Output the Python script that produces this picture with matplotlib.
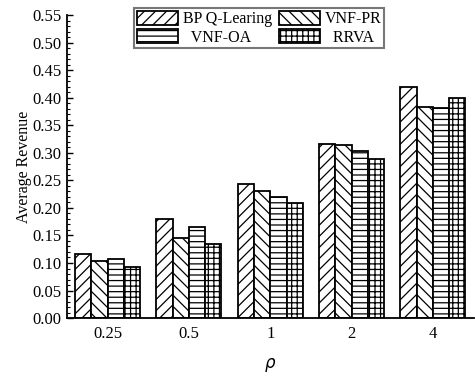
import numpy as np
import matplotlib
matplotlib.use('Agg')
import matplotlib.pyplot as plt
from matplotlib.ticker import MultipleLocator

plt.rcParams['font.family'] = ['Liberation Serif', 'DejaVu Serif']
plt.rcParams['hatch.linewidth'] = 0.9

# data
rho_labels = ['0.25', '0.5', '1', '2', '4']
bp_q = [0.117, 0.179, 0.244, 0.316, 0.420]
vnf_pr = [0.103, 0.145, 0.231, 0.315, 0.383]
vnf_oa = [0.107, 0.166, 0.220, 0.304, 0.381]
rrva = [0.092, 0.135, 0.208, 0.289, 0.400]

series = [bp_q, vnf_pr, vnf_oa, rrva]
names = ['BP Q-Learing', 'VNF-PR', '  VNF-OA', '  RRVA']
hatches = ['///', '\\\\\\', '---', '+++']

fig = plt.figure(figsize=(4.75, 3.76), dpi=100)
ax = fig.add_axes([0.141, 0.154, 0.856, 0.806])

x = np.arange(len(rho_labels))
w = 0.2
bars = []
for i, vals in enumerate(series):
    b = ax.bar(x + (i - 1.5) * w, vals, w, color='white', edgecolor='black',
               linewidth=1.3, hatch=hatches[i], label=names[i])
    bars.append(b)

ax.set_xlim(-0.5, 4.5)
ax.set_ylim(0, 0.55)
ax.set_xticks(x)
ax.set_xticklabels(rho_labels)
ax.yaxis.set_major_locator(MultipleLocator(0.05))
ax.yaxis.set_minor_locator(MultipleLocator(0.01))
ax.yaxis.set_major_formatter(plt.FormatStrFormatter('%.2f'))

for s in ['top', 'right']:
    ax.spines[s].set_visible(False)
for s in ['left', 'bottom']:
    ax.spines[s].set_linewidth(1.3)

ax.tick_params(axis='y', which='major', direction='in', length=4, width=1, labelsize=12, pad=4)
ax.tick_params(axis='y', which='minor', direction='in', length=2.5, width=0.8)
ax.tick_params(axis='x', length=0, labelsize=12, pad=6)

ax.set_ylabel('Average Revenue', fontsize=11.5, labelpad=0)
ax.set_xlabel(r'$\rho$', fontsize=12, labelpad=10)

# row-wise legend order: BP, VNF-PR / VNF-OA, RRVA
order = [0, 2, 1, 3]
leg = ax.legend([bars[k] for k in order], [names[k] for k in order],
                ncol=2, loc='upper left', bbox_to_anchor=(0.166, 1.022), fontsize=11.5,
                frameon=True, fancybox=False, edgecolor='#555555',
                handlelength=2.6, handleheight=1.0, handletextpad=0.3,
                columnspacing=0.4, labelspacing=0.1, borderpad=0.15, borderaxespad=0)
leg.get_frame().set_linewidth(1.5)

plt.savefig('out.png', dpi=100)
